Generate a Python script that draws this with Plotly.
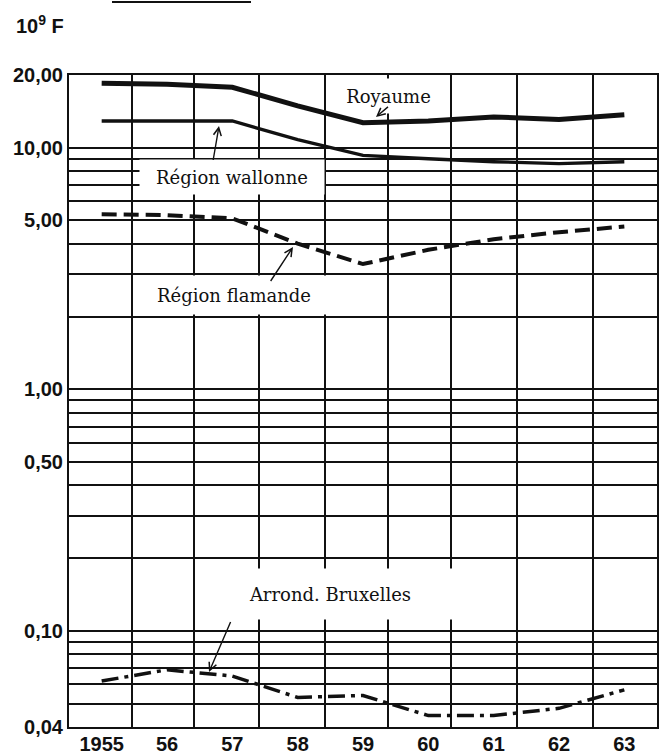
import math
import plotly.graph_objects as go

# ---------------- data ----------------
years = [1955, 1956, 1957, 1958, 1959, 1960, 1961, 1962, 1963]
year_labels = ["1955", "56", "57", "58", "59", "60", "61", "62", "63"]

royaume = [18.5, 18.3, 17.8, 14.9, 12.7, 12.9, 13.4, 13.1, 13.7]
region_wallonne = [12.9, 12.9, 12.9, 10.8, 9.3, 9.0, 8.75, 8.6, 8.75]
region_flamande = [5.30, 5.26, 5.10, 4.01, 3.30, 3.78, 4.18, 4.47, 4.72]
arrond_bruxelles = [0.062, 0.069, 0.065, 0.053, 0.054, 0.0446, 0.0446, 0.0478, 0.057]

y_grid_values = [20, 10, 9, 8, 7, 6, 5, 4, 3, 2, 1, 0.9, 0.8, 0.7, 0.6, 0.5,
                 0.4, 0.3, 0.2, 0.1, 0.09, 0.08, 0.07, 0.06, 0.05, 0.04]
y_tick_labels = {20: "20,00", 10: "10,00", 5: "5,00", 1: "1,00",
                 0.5: "0,50", 0.1: "0,10", 0.04: "0,04"}
x_grid_values = [1955.46, 1956.42, 1957.41, 1958.42, 1959.39, 1960.35, 1961.35, 1962.52]

# ---------------- layout geometry ----------------
W, H = 662, 756
ML, MR, MT, MB = 69, 5, 75, 29
PW, PH = W - ML - MR, H - MT - MB


def xp(px):
    return (px - ML) / PW


def yp(py):
    return (H - MB - py) / PH


INK = "#111111"
SANS = "Liberation Sans, Arial, sans-serif"
SERIF = "DejaVu Serif, serif"

fig = go.Figure()
fig.add_trace(go.Scatter(x=years, y=royaume, mode="lines", name="Royaume",
                         line=dict(color=INK, width=5)))
fig.add_trace(go.Scatter(x=years, y=region_wallonne, mode="lines", name="Région wallonne",
                         line=dict(color=INK, width=3.3)))
fig.add_trace(go.Scatter(x=years, y=region_flamande, mode="lines", name="Région flamande",
                         line=dict(color=INK, width=4, dash="15px,7px")))
fig.add_trace(go.Scatter(x=years, y=arrond_bruxelles, mode="lines", name="Arrond. Bruxelles",
                         line=dict(color=INK, width=3.5, dash="17px,6px,4px,6px")))

annotations = []
# label boxes (white background interrupting the grid)
labels = [
    ("Royaume", 388, 96, 97, 34),
    ("Région wallonne", 232, 177, 184, 34),
    ("Région flamande", 234, 295, 188, 38),
    ("Arrond. Bruxelles", 330, 594, 250, 50),
]
for text, cx, cy, w, h in labels:
    annotations.append(dict(text=text, x=xp(cx), y=yp(cy), xref="paper", yref="paper",
                            showarrow=False, xanchor="center", yanchor="middle",
                            width=w, height=h, borderpad=0, bgcolor="white",
                            font=dict(family=SERIF, size=18, color=INK)))
# arrows: (tip_x, tip_y, tail_x, tail_y) in pixels
arrows = [
    (376, 117, 389, 106),
    (219, 126, 213, 161),
    (293, 247, 270, 282),
    (209, 672, 231, 621),
]
for tx, ty, sx, sy in arrows:
    annotations.append(dict(text=" ", x=xp(tx), y=yp(ty), xref="paper", yref="paper",
                            showarrow=True, ax=sx - tx, ay=sy - ty, standoff=0,
                            width=1, height=1, borderpad=0,
                            font=dict(size=1, color="rgba(0,0,0,0)"),
                            arrowhead=5, arrowsize=1.1, arrowwidth=1.4, arrowcolor=INK))
# unit label
annotations.append(dict(text="10<sup>9</sup> F", x=xp(14), y=yp(10), xref="paper", yref="paper",
                        showarrow=False, xanchor="left", yanchor="top",
                        font=dict(family=SANS, size=20, color=INK, weight="bold")))

fig.update_layout(
    width=W, height=H,
    margin=dict(l=ML, r=MR, t=MT, b=MB, pad=0, autoexpand=False),
    paper_bgcolor="white", plot_bgcolor="white",
    showlegend=False,
    annotations=annotations,
    shapes=[dict(type="line", xref="paper", yref="paper",
                 x0=xp(112), x1=xp(251), y0=yp(2), y1=yp(2),
                 line=dict(color=INK, width=2))],
)

fig.update_xaxes(
    automargin=False,
    range=[1954.5, 1963.5],
    tickmode="array", tickvals=years, ticktext=year_labels,
    showgrid=False, zeroline=False,
    showline=True, linecolor=INK, linewidth=2, mirror=True,
    ticks="", ticklabelstandoff=-2,
    tickfont=dict(family=SANS, size=20, color=INK, weight="bold"),
    minor=dict(tickmode="array", tickvals=x_grid_values, showgrid=True,
               gridcolor=INK, gridwidth=1.6, ticks=""),
)
fig.update_yaxes(
    automargin=False,
    type="log",
    range=[math.log10(0.04), math.log10(20)],
    tickmode="array", tickvals=y_grid_values,
    ticktext=[y_tick_labels.get(v, "") for v in y_grid_values],
    showgrid=True, gridcolor=INK, gridwidth=1.5, zeroline=False,
    showline=True, linecolor=INK, linewidth=2, mirror=True,
    ticks="", ticklabelstandoff=0,
    tickfont=dict(family=SANS, size=20, color=INK, weight="bold"),
)

fig.write_html(
    "out.html",
    config={"displayModeBar": False},
    post_script="document.body.style.margin='0';document.body.style.overflow='hidden';",
)
